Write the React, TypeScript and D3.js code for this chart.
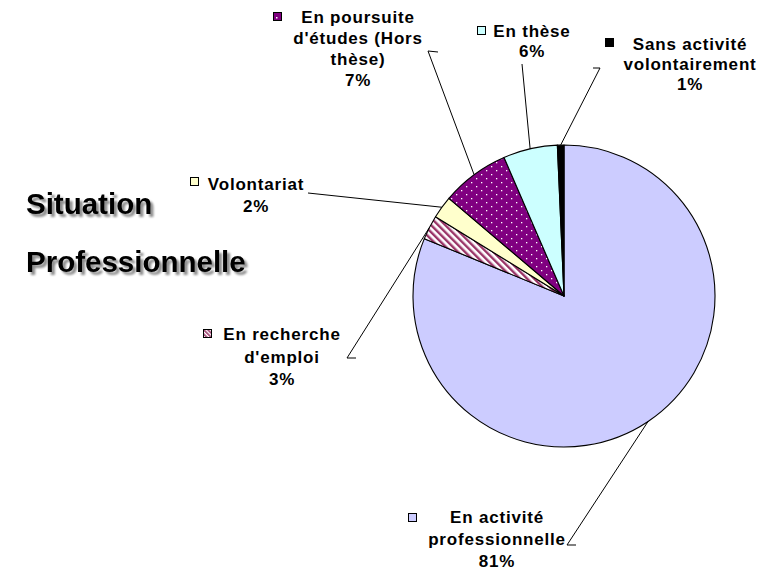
import React from "react";
import * as d3 from "d3";

const categories = [
  "En activité professionnelle",
  "En recherche d'emploi",
  "Volontariat",
  "En poursuite d'études (Hors thèse)",
  "En thèse",
  "Sans activité volontairement",
];
const values = [81.2, 2.6, 2.4, 7.3, 5.8, 0.7];
const percentLabels = ["81%", "3%", "2%", "7%", "6%", "1%"];
const labelLines = [
  ["En activité", "professionnelle", "81%"],
  ["En recherche", "d'emploi", "3%"],
  ["Volontariat", "2%"],
  ["En poursuite", "d'études (Hors", "thèse)", "7%"],
  ["En thèse", "6%"],
  ["Sans activité", "volontairement", "1%"],
];
const titleLines = ["Situation", "Professionnelle"];

const fills = ["#CCCCFF", "url(#stripes)", "#FFFFCC", "url(#dots)", "#CCFFFF", "#000000"];
const keyFills = ["#CCCCFF", "url(#stripesKey)", "#FFFFCC", "#800080", "#CCFFFF", "#000000"];

// layout (positions only)
const cx = 564;
const cy = 296;
const R = 151;
const labelLayout = [
  { x: 497, y: 523, dy: 22, key: [408, 513], line: [[567, 545], [576, 545]] },
  { x: 282, y: 340, dy: 22.5, key: [203, 329], line: [[347, 358], [356, 358]] },
  { x: 256, y: 190, dy: 22, key: [190, 177], line: [[308, 193]] },
  { x: 358, y: 23, dy: 21, key: [273, 12], line: [[428, 51], [438, 52]] },
  { x: 532, y: 37, dy: 20, key: [477, 26], line: [[522, 64]] },
  { x: 690, y: 50, dy: 20, key: [605, 38], line: [[600, 68], [593, 68]] },
];

export default function App() {
  const pie = d3
    .pie<number>()
    .sort(null)
    .value((d) => d)
    .startAngle(0)
    .endAngle(2 * Math.PI);
  const arcs = pie(values);
  const arc = d3.arc<d3.PieArcDatum<number>>().innerRadius(0).outerRadius(R);
  const edge = d3.arc<d3.PieArcDatum<number>>().innerRadius(R).outerRadius(R);

  const font = "'Liberation Sans', Arial, sans-serif";

  return (
    <svg width={762} height={576} style={{ position: "absolute", left: 0, top: 0 }}>
      <defs>
        <pattern id="stripes" patternUnits="userSpaceOnUse" width={5} height={5} patternTransform="rotate(-45)">
          <rect width={5} height={5} fill="#ffffff" />
          <rect width={2.4} height={5} fill="#993366" />
        </pattern>
        <pattern id="stripesKey" patternUnits="userSpaceOnUse" width={3} height={3} patternTransform="rotate(-45)">
          <rect width={3} height={3} fill="#ffffff" />
          <rect width={1.6} height={3} fill="#993366" />
        </pattern>
        <pattern id="dots" patternUnits="userSpaceOnUse" width={10} height={8}>
          <rect width={10} height={8} fill="#800080" />
          <rect x={2} y={2} width={1.3} height={1.3} fill="#ffffff" />
          <rect x={7} y={6} width={1.3} height={1.3} fill="#ffffff" />
        </pattern>
        <filter id="shadow" x="-10%" y="-10%" width="130%" height="150%">
          <feGaussianBlur in="SourceAlpha" stdDeviation="0.8" result="b" />
          <feOffset in="b" dx="2.5" dy="2.5" result="o" />
          <feComponentTransfer in="o" result="s">
            <feFuncA type="linear" slope="0.45" />
          </feComponentTransfer>
          <feMerge>
            <feMergeNode in="s" />
            <feMergeNode in="SourceGraphic" />
          </feMerge>
        </filter>
      </defs>
      <rect width={762} height={576} fill="#ffffff" />

      {/* title */}
      <g filter="url(#shadow)" fontFamily={font} fontWeight="bold" fontSize={29.5} fill="#000">
        {titleLines.map((t, i) => (
          <text key={t} x={26} y={214 + i * 58}>
            {t}
          </text>
        ))}
      </g>

      {/* slices */}
      <g transform={`translate(${cx},${cy})`}>
        {arcs.map((a, i) => (
          <path key={categories[i]} d={arc(a) || ""} fill={fills[i]} stroke="#000" strokeWidth={1.1} strokeLinejoin="round" />
        ))}
      </g>

      {/* leader lines */}
      {arcs.map((a, i) => {
        const [ex, ey] = edge.centroid(a);
        const pts: [number, number][] = [[cx + ex, cy + ey], ...(labelLayout[i].line as [number, number][])];
        const line = d3.line();
        return <path key={"l" + i} d={line(pts.slice().reverse()) || ""} fill="none" stroke="#000" strokeWidth={1} />;
      })}

      {/* labels */}
      {labelLines.map((lines, i) => {
        const L = labelLayout[i];
        return (
          <g key={"t" + i}>
            <rect x={L.key[0] + 0.5} y={L.key[1] + 0.5} width={8} height={8} fill={keyFills[i]} stroke="#000" strokeWidth={1} />
            {i === 3 && <rect x={L.key[0] + 3} y={L.key[1] + 5} width={1.5} height={1.5} fill="#fff" />}
            <text
              fontFamily={font}
              fontWeight="bold"
              fontSize={17}
              letterSpacing={0.8}
              textAnchor="middle"
              fill="#000"
            >
              {lines.map((ln, j) => (
                <tspan key={j} x={L.x} y={L.y + j * L.dy}>
                  {ln}
                </tspan>
              ))}
            </text>
          </g>
        );
      })}
    </svg>
  );
}

export { percentLabels };
